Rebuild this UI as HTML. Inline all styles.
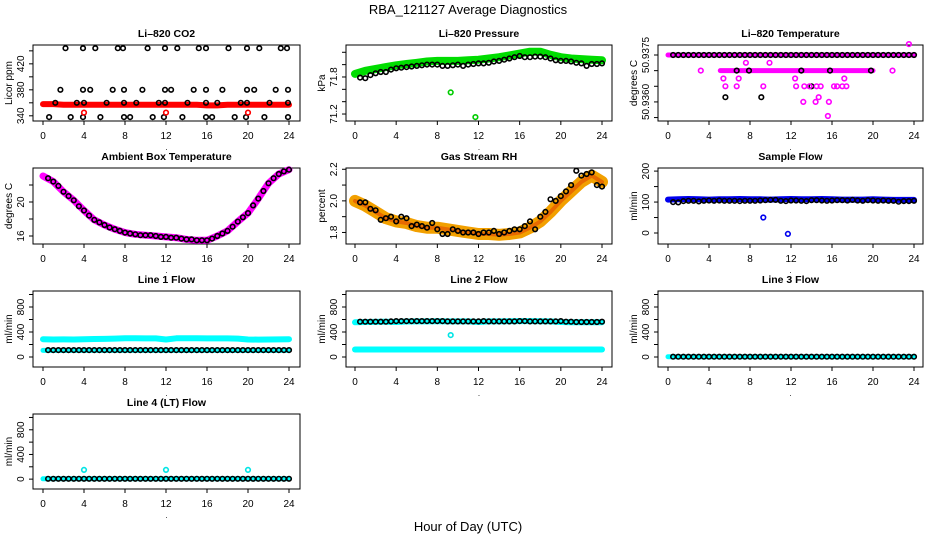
<!DOCTYPE html>
<html><head><meta charset="utf-8">
<style>
html,body{margin:0;padding:0;background:#fff;}
svg{display:block;font-family:"Liberation Sans",Arial,sans-serif;}
</style></head>
<body>
<svg id="chart" width="936" height="540" viewBox="0 0 936 540" xmlns="http://www.w3.org/2000/svg">
<rect x="0" y="0" width="936" height="540" fill="#fff"/>
<text x="468" y="14" text-anchor="middle" font-size="13">RBA_121127  Average Diagnostics</text>
<text x="468" y="531" text-anchor="middle" font-size="13">Hour of Day (UTC)</text>
</svg>
<script>
// ---- data ----
const xTicks = [0,4,8,12,16,20,24];
const bandHours = [0,1,2,3,4,5,6,7,8,9,10,11,12,13,14,15,16,17,18,19,20,21,22,23,24];

const co2Band = [358,358,357,357,357,357,357,357,357,357,357,357,357,357,357,357,356,356,357,357,357,357,357,357,357];
const co2BlackX = [2.2,3.9,5.1,7.3,7.8,10.2,11.9,13.1,15.2,15.9,18.1,19.9,21.1,23.2,23.8,
 1.7,3.9,4.6,6.8,7.9,9.7,11.9,12.5,14.7,15.9,17.5,19.9,20.6,22.7,23.9,
 1.2,3.3,4.0,6.2,7.9,9.1,11.3,11.9,14.1,15.9,17.0,19.3,19.9,22.1,23.9,
 0.6,2.7,3.9,5.6,7.9,8.5,10.7,11.8,13.6,15.9,16.5,18.7,19.8,21.6,23.9];
const co2BlackY = [444,444,444,444,444,444,444,444,444,444,444,444,444,444,444,
 380,380,380,380,380,380,380,380,380,380,380,380,380,380,380,
 360,360,360,360,360,360,360,360,360,360,360,360,360,360,360,
 338,338,338,338,338,338,338,338,338,338,338,338,338,338,338];
const co2RedX = [4.0,12.0,20.0];
const co2RedY = [345,345,345];

const presBand = [71.85,71.9,71.93,71.96,71.99,72.01,72.03,72.05,72.06,72.06,72.06,72.07,72.08,72.1,72.12,72.15,72.18,72.21,72.21,72.16,72.12,72.1,72.09,72.08,72.07];
const presBlack = [71.79,71.78,71.83,71.86,71.88,71.88,71.92,71.94,71.95,71.96,71.97,71.98,71.99,72.0,72.0,72.0,71.98,71.98,71.99,72.0,71.98,72.0,72.01,72.02,72.02,72.03,72.05,72.06,72.08,72.1,72.12,72.14,72.12,72.12,72.13,72.13,72.12,72.1,72.07,72.06,72.06,72.05,72.03,72.02,71.98,72.01,72.01,72.02];
const presOutX = [9.3,11.7];
const presOutY = [71.55,71.15];

const tempBandHigh = [50.9375,50.9375];
const tempBandHighX = [0,24];
const tempBandLow = [50.9370,50.9370];
const tempBandLowX = [5.1,20.0];
const tempBlackMain = 50.9375;
const tempBlackX = [6.7,7.9,13.0,15.8,19.8,5.6,9.1,14.0];
const tempBlackY = [50.9370,50.9370,50.9370,50.9370,50.9370,50.93615,50.93615,50.9365];
const tempMagX = [3.2,21.9,5.4,5.6,6.7,6.9,7.6,9.9,9.3,12.4,12.5,13.3,13.8,14.5,14.9,14.7,13.2,14.4,15.7,15.6,16.2,16.5,17.0,17.4,17.2,23.5];
const tempMagY = [50.9370,50.9370,50.93675,50.9365,50.9365,50.93675,50.93725,50.93725,50.9365,50.93675,50.9365,50.9365,50.9365,50.9365,50.9365,50.93615,50.9360,50.9360,50.9360,50.93555,50.9365,50.9365,50.9365,50.9365,50.93675,50.93785];

const ambBand = [23.06,22.4,21.2,20.2,19.0,17.9,17.3,16.8,16.4,16.2,16.1,16.0,15.9,15.8,15.6,15.5,15.5,16.0,16.6,17.7,18.7,20.4,22.2,23.3,23.8];
const ambBlack = [22.8,22.4,21.9,21.2,20.7,20.2,19.5,19.0,18.4,17.9,17.6,17.3,17.0,16.8,16.6,16.4,16.3,16.2,16.1,16.1,16.1,16.0,15.9,15.9,15.8,15.8,15.7,15.6,15.6,15.5,15.5,15.5,15.7,16.0,16.3,16.6,17.1,17.7,18.2,18.7,19.6,20.4,21.3,22.2,22.8,23.3,23.6,23.8];

const rhBand = [2.0,1.97,1.93,1.89,1.87,1.86,1.84,1.83,1.83,1.82,1.81,1.8,1.79,1.79,1.785,1.79,1.8,1.83,1.87,1.93,2.0,2.06,2.12,2.16,2.12];
const rhBlack = [1.99,1.99,1.95,1.94,1.88,1.89,1.9,1.87,1.9,1.89,1.84,1.85,1.84,1.83,1.86,1.82,1.79,1.79,1.82,1.81,1.8,1.8,1.8,1.79,1.8,1.8,1.81,1.79,1.8,1.81,1.82,1.82,1.84,1.87,1.82,1.9,1.93,2.01,2.0,2.03,2.06,2.1,2.19,2.16,2.17,2.18,2.1,2.09];

const sampBand = [108,109,110,109,108,109,109,110,109,109,108,109,110,109,109,110,109,108,108,108,109,108,107,107,107];
const sampBlack = [100,99,103,104,104,102,104,105,104,105,104,104,104,103,104,104,104,105,106,107,107,104,103,105,105,104,103,106,106,105,104,105,106,106,105,107,105,104,106,105,104,105,104,104,101,103,103,104];
const sampOutX = [9.3,11.7];
const sampOutY = [50,-3];

const l1Upper = [285,280,282,280,285,288,290,295,300,300,298,298,280,300,300,300,298,298,298,295,280,278,280,282,285];
const l1Lower = [105,105,105,105,105,105,105,105,105,105,105,105,105,105,105,105,105,105,105,105,105,105,105,105,105];
const l1Black = [110,110,110,110,110,110,110,110,110,110,110,110,110,110,110,110,110,110,110,110,110,110,110,110,110,110,110,110,110,110,110,110,110,110,110,110,110,110,110,110,110,110,110,110,110,110,110,110];

const l2Upper = [555,560,562,565,560,568,570,570,572,570,570,570,560,570,570,572,575,575,572,570,560,555,555,555,555];
const l2Lower = [120,120,120,120,120,120,120,120,120,120,120,120,120,120,120,120,120,120,120,120,120,120,120,120,120];
const l2Black = [565,565,565,565,565,565,570,575,575,575,575,575,575,575,575,575,575,570,570,570,570,570,570,570,575,570,570,570,570,570,570,575,575,570,570,570,570,570,570,575,565,565,560,560,560,560,560,565];
const l2OutX = [9.3];
const l2OutY = [350];

const l3Cyan = [5,5,5,5,5,5,5,5,5,5,5,5,5,5,5,5,5,5,5,5,5,5,5,5,5];
const l3Black = [5,5,5,5,5,5,5,5,5,5,5,5,5,5,5,5,5,5,5,5,5,5,5,5,5,5,5,5,5,5,5,5,5,5,5,5,5,5,5,5,5,5,5,5,5,5,5,5];
const l4Cyan = [5,5,5,5,5,5,5,5,5,5,5,5,5,5,5,5,5,5,5,5,5,5,5,5,5];
const l4Black = [5,5,5,5,5,5,5,5,5,5,5,5,5,5,5,5,5,5,5,5,5,5,5,5,5,5,5,5,5,5,5,5,5,5,5,5,5,5,5,5,5,5,5,5,5,5,5,5];
const l4OutX = [4,12,20];
const l4OutY = [150,150,150];

// ---- rendering ----
const NS = "http://www.w3.org/2000/svg";
const svg = document.getElementById('chart');
const blackHours = [];
for (let i = 1; i <= 48; i++) blackHours.push(i * 0.5);

function mk(tag, attrs, parent) {
  const e = document.createElementNS(NS, tag);
  for (const k in attrs) e.setAttribute(k, attrs[k]);
  (parent || svg).appendChild(e);
  return e;
}

function panel(cfg) {
  const g = mk('g', {});
  
  
  const xs = h => cfg.x0 + (cfg.x24 - cfg.x0) * h / 24;
  const ys = v => cfg.bottom - (v - cfg.ylo) / (cfg.yhi - cfg.ylo) * (cfg.bottom - cfg.top);
  const t = mk('text', {x: (cfg.left + cfg.right) / 2, y: cfg.top - 8, 'text-anchor': 'middle', 'font-size': 10.5, 'font-weight': 'bold'}, g);
  t.textContent = cfg.title;
  
  
  const box = mk('rect', {x: cfg.left, y: cfg.top, width: cfg.right - cfg.left, height: cfg.bottom - cfg.top, fill: 'none', stroke: '#000', 'stroke-width': 1}, g);
  
  
  xTicks.forEach(v => {
    const x = xs(v);
    const tk = mk('line', {x1: x, x2: x, y1: cfg.bottom, y2: cfg.bottom + 4, stroke: '#000'}, g);
    
    
    const lb = mk('text', {x: x, y: cfg.bottom + 18, 'text-anchor': 'middle', 'font-size': 10}, g);
    lb.textContent = String(v);
    
    
  });
  cfg.yticks.forEach(v => {
    const y = ys(v);
    const tk = mk('line', {x1: cfg.left - 4, x2: cfg.left, y1: y, y2: y, stroke: '#000'}, g);
    
    
  });
  cfg.ylabels.forEach((s, i) => {
    const y = ys(cfg.ylabelVals[i]);
    const lb = mk('text', {x: 0, y: 0, 'text-anchor': 'middle', 'font-size': 10, transform: 'translate(' + (cfg.left - 9) + ',' + y + ') rotate(-90)'}, g);
    lb.textContent = s;
    
    
  });
  const yl = mk('text', {x: 0, y: 0, 'text-anchor': 'middle', 'font-size': 10, transform: 'translate(' + (cfg.left - 21) + ',' + (cfg.top + cfg.bottom) / 2 + ') rotate(-90)'}, g);
  yl.textContent = cfg.ylab;
  
  
  const dot = mk('text', {x: (cfg.left + cfg.right) / 2, y: cfg.bottom + 29, 'text-anchor': 'middle', 'font-size': 8}, g);
  dot.textContent = '.';
  
  
  const clip = mk('g', {}, g);
  
  
  return {g: clip, xs, ys};
}

function band(p, xArr, yArr, color, width, name) {
  const d = xArr.map((h, i) => (i ? 'L' : 'M') + p.xs(h).toFixed(1) + ',' + p.ys(yArr[i]).toFixed(1)).join(' ');
  const e = mk('path', {d: d, fill: 'none', stroke: color, 'stroke-width': width, 'stroke-linecap': 'round', 'stroke-linejoin': 'round'}, p.g);
  
  
}
function pts(p, xArr, yArr, color, name, r, sw) {
  xArr.forEach((h, i) => {
    const c = mk('circle', {cx: p.xs(h).toFixed(1), cy: p.ys(yArr[i]).toFixed(1), r: r || 2.3, fill: 'none', stroke: color, 'stroke-width': sw || 1.6}, p.g);
    
    
  });
}

const cols = [{left: 33, right: 300, x0: 43, x24: 289}, {left: 346, right: 612, x0: 355, x24: 602}, {left: 658, right: 923, x0: 668, x24: 914}];
const rows = [{top: 45, bottom: 121}, {top: 168, bottom: 244}, {top: 291, bottom: 367}, {top: 414, bottom: 489}];
function cfgOf(c, r, extra) { return Object.assign({}, cols[c], rows[r], extra); }

const flowAxis = {ylo: -160, yhi: 1056, yticks: [0,200,400,600,800,1000], ylabels: ['0','400','800'], ylabelVals: [0,400,800], ylab: 'ml/min'};

// CO2
let p = panel(cfgOf(0, 0, {name: 'co2', title: 'Li\u2013820 CO2', ylo: 332, yhi: 449, yticks: [340,360,380,400,420,440], ylabels: ['340','380','420'], ylabelVals: [340,380,420], ylab: 'Licor ppm'}));
band(p, bandHours, co2Band, '#ff0000', 6, 'co2-red-band');
pts(p, co2BlackX, co2BlackY, '#000', 'co2-point');
pts(p, co2RedX, co2RedY, '#ff0000', 'co2-red-point');

// Pressure
p = panel(cfgOf(1, 0, {name: 'pressure', title: 'Li\u2013820 Pressure', ylo: 71.087, yhi: 72.318, yticks: [71.2,71.4,71.6,71.8,72.0,72.2], ylabels: ['71.2','71.8'], ylabelVals: [71.2,71.8], ylab: 'kPa'}));
band(p, bandHours, presBand, '#00dd00', 8, 'pressure-green-band');
pts(p, blackHours, presBlack, '#000', 'pressure-point');
pts(p, presOutX, presOutY, '#00cc00', 'pressure-green-point');

// Temperature
p = panel(cfgOf(2, 0, {name: 'li820-temp', title: 'Li\u2013820 Temperature', ylo: 50.93539, yhi: 50.93782, yticks: [50.9355,50.9360,50.9365,50.9370,50.9375], ylabels: ['50.9360','50.9375'], ylabelVals: [50.9360,50.9375], ylab: 'degrees C'}));
band(p, tempBandHighX, tempBandHigh, '#ff00ff', 5, 'temp-magenta-band');
band(p, tempBandLowX, tempBandLow, '#ff00ff', 5, 'temp-magenta-band-low');
pts(p, blackHours, blackHours.map(() => tempBlackMain), '#000', 'temp-point');
pts(p, tempBlackX, tempBlackY, '#000', 'temp-point');
pts(p, tempMagX, tempMagY, '#ff00ff', 'temp-magenta-point');

// Ambient
p = panel(cfgOf(0, 1, {name: 'ambient', title: 'Ambient Box Temperature', ylo: 15.06, yhi: 24.0, yticks: [16,18,20,22], ylabels: ['16','20'], ylabelVals: [16,20], ylab: 'degrees C'}));
band(p, bandHours, ambBand, '#ff00ff', 7, 'ambient-magenta-band');
pts(p, blackHours, ambBlack, '#000', 'ambient-point');

// RH
p = panel(cfgOf(1, 1, {name: 'rh', title: 'Gas Stream RH', ylo: 1.727, yhi: 2.208, yticks: [1.8,1.9,2.0,2.1,2.2], ylabels: ['1.8','2.0','2.2'], ylabelVals: [1.8,2.0,2.2], ylab: 'percent'}));
band(p, bandHours, rhBand, '#f2a000', 12, 'rh-orange-band');
band(p, bandHours, rhBand, '#e86a00', 4, 'rh-orange-band-core');
pts(p, blackHours, rhBlack, '#000', 'rh-point');

// Sample flow
p = panel(cfgOf(2, 1, {name: 'sample-flow', title: 'Sample Flow', ylo: -35.5, yhi: 210, yticks: [0,50,100,150,200], ylabels: ['0','100','200'], ylabelVals: [0,100,200], ylab: 'ml/min'}));
band(p, bandHours, sampBand, '#0000ee', 6, 'sample-blue-band');
pts(p, blackHours, sampBlack, '#000', 'sample-point');
pts(p, sampOutX, sampOutY, '#0000ee', 'sample-blue-point');

// Line 1
p = panel(cfgOf(0, 2, Object.assign({name: 'line1', title: 'Line 1 Flow'}, flowAxis)));
band(p, bandHours, l1Upper, '#00ffff', 6, 'line1-cyan-upper');
band(p, bandHours, l1Lower, '#00ffff', 5, 'line1-cyan-lower');
pts(p, blackHours, l1Black, '#000', 'line1-point');

// Line 2
p = panel(cfgOf(1, 2, Object.assign({name: 'line2', title: 'Line 2 Flow'}, flowAxis)));
band(p, bandHours, l2Upper, '#00ffff', 6, 'line2-cyan-upper');
band(p, bandHours, l2Lower, '#00ffff', 6, 'line2-cyan-lower');
pts(p, blackHours, l2Black, '#000', 'line2-point');
pts(p, l2OutX, l2OutY, '#00e5e5', 'line2-cyan-point');

// Line 3
p = panel(cfgOf(2, 2, Object.assign({name: 'line3', title: 'Line 3 Flow'}, flowAxis)));
band(p, bandHours, l3Cyan, '#00ffff', 5, 'line3-cyan-band');
pts(p, blackHours, l3Black, '#000', 'line3-point');

// Line 4
p = panel(cfgOf(0, 3, Object.assign({name: 'line4', title: 'Line 4 (LT) Flow'}, flowAxis)));
band(p, bandHours, l4Cyan, '#00ffff', 5, 'line4-cyan-band');
pts(p, blackHours, l4Black, '#000', 'line4-point');
pts(p, l4OutX, l4OutY, '#00e5e5', 'line4-cyan-point');
</script>
</body></html>
